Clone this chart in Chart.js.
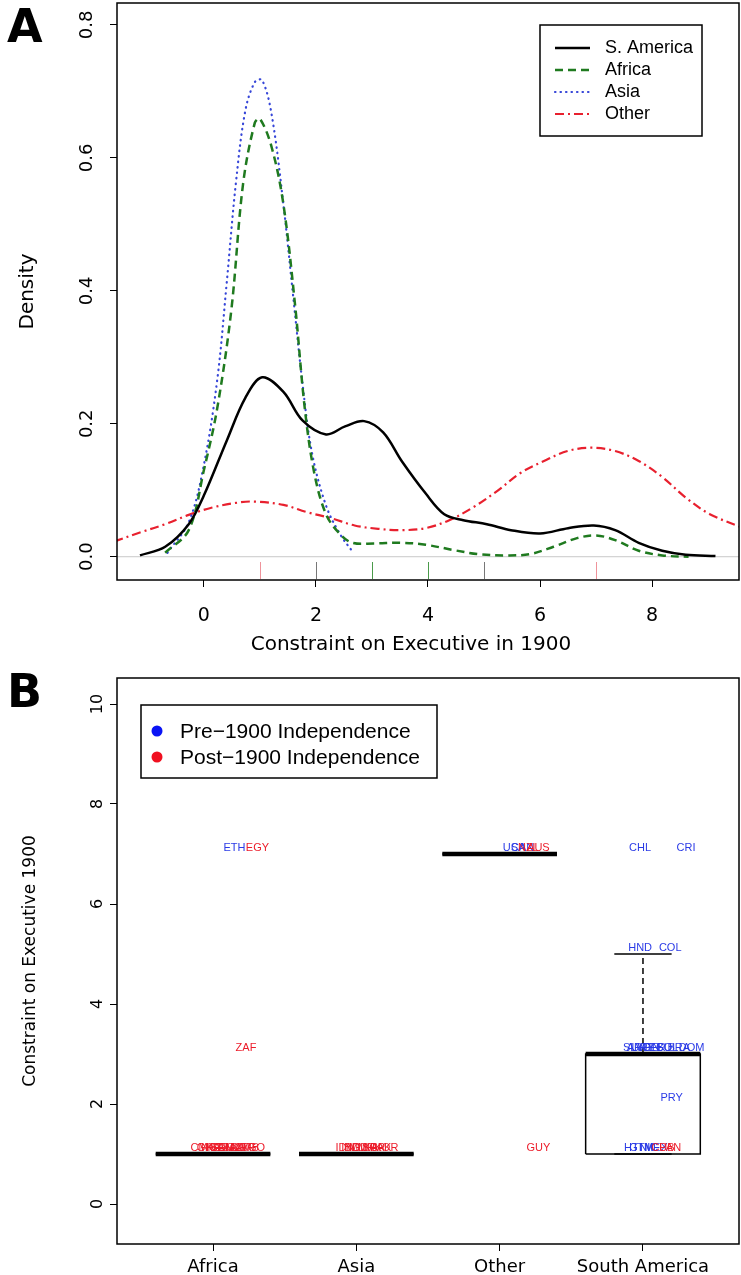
<!DOCTYPE html>
<html>
<head>
<meta charset="utf-8">
<script src="https://cdn.jsdelivr.net/npm/chart.js@4.4.1/dist/chart.umd.min.js"></script>
<style>
  html, body { margin: 0; padding: 0; background: #fff; }
  body { width: 741px; height: 1275px; position: relative; overflow: hidden; }
  .panel { position: absolute; left: 0; width: 741px; }
  #topWrap { top: 0; height: 660px; }
  #botWrap { top: 660px; height: 615px; }
  .tag { position: absolute; left: 7px; font: bold 46px "DejaVu Sans", sans-serif; line-height: 1; }
</style>
</head>
<body>
<div id="topWrap" class="panel"><canvas id="densityChart"></canvas></div>
<div id="botWrap" class="panel"><canvas id="boxChart"></canvas></div>
<div class="tag" style="top:3px">A</div>
<div class="tag" style="top:668px">B</div>
<script>
// Panel A: kernel densities, [x, density]
const southAmerica = [[-1.14,0.002],[-0.69,0.015],[-0.27,0.049],[0,0.092],[0.41,0.175],[0.74,0.239],[1.04,0.27],[1.42,0.248],[1.76,0.205],[2.18,0.184],[2.52,0.196],[2.86,0.204],[3.2,0.187],[3.53,0.144],[3.96,0.095],[4.29,0.064],[4.63,0.055],[5.05,0.049],[5.48,0.04],[6.0,0.035],[6.5,0.043],[6.96,0.047],[7.34,0.04],[7.76,0.021],[8.18,0.009],[8.6,0.003],[9.13,0.001]];
const africa = [[-0.69,0.006],[-0.27,0.04],[0,0.13],[0.24,0.224],[0.49,0.371],[0.70,0.561],[0.91,0.653],[1.0,0.659],[1.21,0.616],[1.42,0.53],[1.63,0.377],[1.8,0.224],[1.97,0.126],[2.18,0.064],[2.43,0.034],[2.65,0.021],[3.03,0.02],[3.53,0.021],[3.96,0.018],[4.46,0.010],[4.89,0.004],[5.39,0.002],[5.82,0.004],[6.24,0.015],[6.66,0.028],[7.0,0.032],[7.34,0.025],[7.76,0.009],[8.18,0.002],[8.65,0.0]];
const asia = [[-0.65,0.006],[-0.27,0.052],[0,0.138],[0.24,0.267],[0.41,0.414],[0.57,0.561],[0.74,0.671],[0.91,0.714],[1.04,0.717],[1.21,0.665],[1.42,0.53],[1.59,0.395],[1.76,0.261],[1.93,0.156],[2.18,0.077],[2.43,0.034],[2.65,0.008]];
const other = [[-1.6,0.023],[-1.12,0.037],[-0.69,0.049],[-0.27,0.063],[0.15,0.074],[0.57,0.081],[0.91,0.083],[1.42,0.078],[1.84,0.067],[2.27,0.058],[2.69,0.047],[3.11,0.042],[3.53,0.04],[3.96,0.043],[4.38,0.055],[4.8,0.074],[5.22,0.098],[5.65,0.126],[6.07,0.144],[6.49,0.159],[6.91,0.164],[7.34,0.159],[7.76,0.144],[8.18,0.12],[8.6,0.089],[9.03,0.064],[9.6,0.044]];
const rugValues = [1, 2, 3, 4, 5, 7];
const densityXTicks = [0, 2, 4, 6, 8];
const densityYTicks = [0, 0.2, 0.4, 0.6, 0.8];

// Panel B: boxplot stats per region
const regions = ['Africa', 'Asia', 'Other', 'South America'];
const boxLow = [1, 1, 7, 1];
const boxQ1 = [1, 1, 7, 1];
const boxMedian = [1, 1, 7, 3];
const boxQ3 = [1, 1, 7, 3];
const boxHigh = [1, 1, 7, 5];
const scoreTicks = [0, 2, 4, 6, 8, 10];

// country labels: code, region index, jitter, score, pre-1900 independence
const countryCodes  = ['CMR','GHA','NGA','KEN','SEN','TZA','UGA','MLI','CIV','NER','ZMB','TGO','ETH','EGY','ZAF',
                       'IDN','IND','BGD','MMR','LKA','SGP','PAK','KOR',
                       'USA','CAN','NZL','AUS','GUY',
                       'SLV','ARG','URY','VEN','PER','ECU','BOL','BRA','DOM','HTI','GTM','NIC','MEX','CUB','PAN','PRY','HND','COL','CHL','CRI'];
const countryRegion = [0,0,0,0,0,0,0,0,0,0,0,0,0,0,0, 1,1,1,1,1,1,1,1, 2,2,2,2,2, 3,3,3,3,3,3,3,3,3,3,3,3,3,3,3,3,3,3,3,3];
const countryJitter = [-0.07,-0.03,0.0,0.03,0.06,0.09,0.12,0.15,0.18,0.21,0.24,0.28,0.15,0.31,0.23,
                       -0.08,-0.04,0.0,0.04,0.08,0.12,0.17,0.21,
                       0.10,0.16,0.20,0.27,0.27,
                       -0.07,-0.03,0.0,0.04,0.08,0.12,0.17,0.25,0.34,-0.07,-0.01,0.04,0.09,0.14,0.19,0.20,-0.02,0.19,-0.02,0.30];
const countryScore  = [1,1,1,1,1,1,1,1,1,1,1,1,7,7,3, 1,1,1,1,1,1,1,1, 7,7,7,7,1, 3,3,3,3,3,3,3,3,3,1,1,1,1,1,1,2,5,5,7,7];
const countryPre    = [0,0,0,0,0,0,0,0,0,0,0,0,1,0,0, 0,0,0,0,0,0,0,0, 1,1,0,0,0, 1,1,1,1,1,1,1,1,1,1,1,1,1,0,0,1,1,1,1,1];

Chart.defaults.font.family = '"DejaVu Sans", sans-serif';
Chart.defaults.color = '#000';

const toXY = arr => arr.map(p => ({ x: p[0], y: p[1] }));
const fixedTicks = vals => scale => { scale.ticks = vals.map(v => ({ value: v })); };

function frame(ctx, area) {
  ctx.save();
  ctx.strokeStyle = '#000';
  ctx.lineWidth = 1.5;
  ctx.strokeRect(area.left, area.top, area.right - area.left, area.bottom - area.top);
  ctx.restore();
}

function rotatedTicks(ctx, scale, vals, x, font, fmt) {
  ctx.save();
  ctx.font = font;
  ctx.fillStyle = '#000';
  ctx.textAlign = 'center';
  ctx.textBaseline = 'middle';
  vals.forEach(v => {
    const y = scale.getPixelForValue(v);
    ctx.save();
    ctx.translate(x, y);
    ctx.rotate(-Math.PI / 2);
    ctx.fillText(fmt(v), 0, 0);
    ctx.restore();
  });
  ctx.restore();
}

// ---------- Panel A ----------
const rugColors = { 1: 'rgba(235,120,130,0.8)', 2: '#777', 3: '#4a9a4a', 4: '#4a9a4a', 5: '#777', 7: 'rgba(235,120,130,0.8)' };

const densityDecor = {
  id: 'densityDecor',
  beforeDatasetsDraw(chart) {
    const { ctx, chartArea, scales } = chart;
    const y0 = scales.y.getPixelForValue(0);
    ctx.save();
    ctx.strokeStyle = '#c8c8c8';
    ctx.lineWidth = 1;
    ctx.beginPath();
    ctx.moveTo(chartArea.left, y0);
    ctx.lineTo(chartArea.right, y0);
    ctx.stroke();
    ctx.restore();
  },
  afterDraw(chart) {
    const { ctx, chartArea, scales } = chart;
    frame(ctx, chartArea);
    // rug
    ctx.save();
    ctx.lineWidth = 1;
    rugValues.forEach(v => {
      const x = Math.round(scales.x.getPixelForValue(v)) + 0.5;
      ctx.strokeStyle = rugColors[v];
      ctx.beginPath();
      ctx.moveTo(x, chartArea.bottom - 1);
      ctx.lineTo(x, chartArea.bottom - 18);
      ctx.stroke();
    });
    ctx.restore();
    rotatedTicks(ctx, scales.y, densityYTicks, 87, '18px "DejaVu Sans"', v => v.toFixed(1));
    // x axis title (sits a little left of the plot centre in the source)
    ctx.save();
    ctx.font = '20px "DejaVu Sans"';
    ctx.fillStyle = '#000';
    ctx.textAlign = 'center';
    ctx.textBaseline = 'middle';
    ctx.fillText('Constraint on Executive in 1900', 411, 645);
    ctx.restore();
    // legend
    ctx.save();
    ctx.fillStyle = '#fff';
    ctx.fillRect(540, 25, 162, 111);
    ctx.strokeStyle = '#000';
    ctx.lineWidth = 1.5;
    ctx.strokeRect(540, 25, 162, 111);
    ctx.font = '18px "Liberation Sans"';
    ctx.textBaseline = 'middle';
    chart.data.datasets.forEach((ds, i) => {
      const y = 48 + i * 22;
      ctx.strokeStyle = ds.borderColor;
      ctx.lineWidth = ds.borderWidth;
      ctx.lineCap = ds.borderCapStyle || 'butt';
      ctx.setLineDash(ds.borderDash || []);
      ctx.beginPath();
      ctx.moveTo(555, y);
      ctx.lineTo(590, y);
      ctx.stroke();
      ctx.setLineDash([]);
      ctx.fillStyle = '#000';
      ctx.fillText(ds.label, 605, y);
    });
    ctx.restore();
  }
};

new Chart(document.getElementById('densityChart'), {
  type: 'line',
  data: {
    datasets: [
      { label: 'S. America', data: toXY(southAmerica), borderColor: '#000', borderWidth: 2.5, borderDash: [] },
      { label: 'Africa', data: toXY(africa), borderColor: '#1f7a1f', borderWidth: 2.5, borderDash: [8, 5] },
      { label: 'Asia', data: toXY(asia), borderColor: '#3646d8', borderWidth: 2.2, borderDash: [0.5, 5], borderCapStyle: 'round' },
      { label: 'Other', data: toXY(other), borderColor: '#e8202e', borderWidth: 2.2, borderDash: [9, 4, 2, 4] }
    ]
  },
  options: {
    responsive: true,
    maintainAspectRatio: false,
    animation: false,
    events: [],
    layout: { padding: { top: 3, right: 2, left: 0, bottom: 0 } },
    elements: { point: { radius: 0 }, line: { tension: 0.35, fill: false } },
    plugins: { legend: { display: false }, tooltip: { enabled: false } },
    scales: {
      x: {
        type: 'linear', min: -1.55, max: 9.55,
        afterBuildTicks: fixedTicks(densityXTicks),
        afterFit: s => { s.height = 80; },
        ticks: { font: { size: 19 }, padding: 18, maxRotation: 0 },
        grid: { drawOnChartArea: false, tickLength: 7, color: '#000' },
        border: { display: false }
      },
      y: {
        min: -0.035, max: 0.833,
        afterBuildTicks: fixedTicks(densityYTicks),
        afterFit: s => { s.width = 117; },
        ticks: { display: false },
        grid: { drawOnChartArea: false, tickLength: 7, color: '#000' },
        border: { display: false },
        title: { display: true, text: 'Density', font: { size: 20 }, padding: { top: 16, bottom: 0 } }
      }
    }
  },
  plugins: [densityDecor]
});

// ---------- Panel B ----------
const HALF_BOX = 0.4, HALF_CAP = 0.2;
const gap = x => ({ x: x, y: null });
const boxOutline = [], whiskers = [], caps = [], medians = [];
regions.forEach((r, i) => {
  const c = i + 1;
  boxOutline.push({ x: c - HALF_BOX, y: boxQ1[i] }, { x: c + HALF_BOX, y: boxQ1[i] }, { x: c + HALF_BOX, y: boxQ3[i] },
                  { x: c - HALF_BOX, y: boxQ3[i] }, { x: c - HALF_BOX, y: boxQ1[i] }, gap(c));
  whiskers.push({ x: c, y: boxQ3[i] }, { x: c, y: boxHigh[i] }, gap(c), { x: c, y: boxQ1[i] }, { x: c, y: boxLow[i] }, gap(c));
  caps.push({ x: c - HALF_CAP, y: boxHigh[i] }, { x: c + HALF_CAP, y: boxHigh[i] }, gap(c),
            { x: c - HALF_CAP, y: boxLow[i] }, { x: c + HALF_CAP, y: boxLow[i] }, gap(c));
  medians.push({ x: c - HALF_BOX, y: boxMedian[i] }, { x: c + HALF_BOX, y: boxMedian[i] }, gap(c));
});

const prePoints = [], postPoints = [];
countryCodes.forEach((code, i) => {
  const pt = { x: countryRegion[i] + 1 + countryJitter[i], y: countryScore[i], code: code };
  (countryPre[i] ? prePoints : postPoints).push(pt);
});

const PRE_COLOR = '#2a3ae6', POST_COLOR = '#ec1c2a';

const boxDecor = {
  id: 'boxDecor',
  afterDatasetsDraw(chart) {
    const { ctx } = chart;
    ctx.save();
    ctx.font = '11px "Liberation Sans"';
    ctx.textAlign = 'center';
    ctx.textBaseline = 'middle';
    chart.data.datasets.forEach((ds, di) => {
      if (!ds.countryLabels) return;
      const meta = chart.getDatasetMeta(di);
      ctx.fillStyle = ds.textColor;
      meta.data.forEach((el, j) => {
        ctx.fillText(ds.data[j].code, el.x, el.y - 6);
      });
    });
    ctx.restore();
  },
  afterDraw(chart) {
    const { ctx, chartArea, scales } = chart;
    frame(ctx, chartArea);
    rotatedTicks(ctx, scales.y, scoreTicks, 98, '16px "DejaVu Sans"', v => String(v));
    // legend
    ctx.save();
    ctx.fillStyle = '#fff';
    ctx.fillRect(141, 45, 296, 73);
    ctx.strokeStyle = '#000';
    ctx.lineWidth = 1.5;
    ctx.strokeRect(141, 45, 296, 73);
    ctx.font = '21px "Liberation Sans"';
    ctx.textBaseline = 'middle';
    chart.data.datasets.filter(ds => ds.countryLabels).forEach((ds, i) => {
      const y = 71 + i * 26;
      ctx.fillStyle = ds.dotColor;
      ctx.beginPath();
      ctx.arc(157, y, 5.5, 0, Math.PI * 2);
      ctx.fill();
      ctx.fillStyle = '#000';
      ctx.fillText(ds.label, 180, y + 1);
    });
    ctx.restore();
  }
};

new Chart(document.getElementById('boxChart'), {
  type: 'line',
  data: {
    datasets: [
      { label: 'median', data: medians, borderColor: '#000', borderWidth: 4.5, spanGaps: false },
      { label: 'box', data: boxOutline, borderColor: '#000', borderWidth: 1.5, spanGaps: false },
      { label: 'whisker', data: whiskers, borderColor: '#000', borderWidth: 1.5, borderDash: [6, 4], spanGaps: false },
      { label: 'cap', data: caps, borderColor: '#000', borderWidth: 1.5, spanGaps: false },
      { label: 'Pre\u22121900 Independence', data: prePoints, showLine: false, countryLabels: true, textColor: PRE_COLOR, dotColor: '#0a14f5' },
      { label: 'Post\u22121900 Independence', data: postPoints, showLine: false, countryLabels: true, textColor: POST_COLOR, dotColor: '#f01020' }
    ]
  },
  options: {
    responsive: true,
    maintainAspectRatio: false,
    animation: false,
    events: [],
    layout: { padding: { top: 18, right: 2, left: 0, bottom: 0 } },
    elements: { point: { radius: 0 }, line: { tension: 0, fill: false, borderCapStyle: 'butt' } },
    plugins: { legend: { display: false }, tooltip: { enabled: false } },
    scales: {
      x: {
        type: 'linear', min: 0.33, max: 4.67,
        afterBuildTicks: fixedTicks([1, 2, 3, 4]),
        afterFit: s => { s.height = 31; },
        ticks: { font: { size: 18 }, padding: 6, maxRotation: 0, autoSkip: false, callback: v => regions[v - 1] },
        grid: { drawOnChartArea: false, tickLength: 7, color: '#000' },
        border: { display: false }
      },
      y: {
        min: -0.8, max: 10.52,
        afterBuildTicks: fixedTicks(scoreTicks),
        afterFit: s => { s.width = 117; },
        ticks: { display: false },
        grid: { drawOnChartArea: false, tickLength: 7, color: '#000' },
        border: { display: false },
        title: { display: true, text: 'Constraint on Executive 1900', font: { size: 17 }, padding: { top: 20, bottom: 0 } }
      }
    }
  },
  plugins: [boxDecor]
});
</script>
</body>
</html>
